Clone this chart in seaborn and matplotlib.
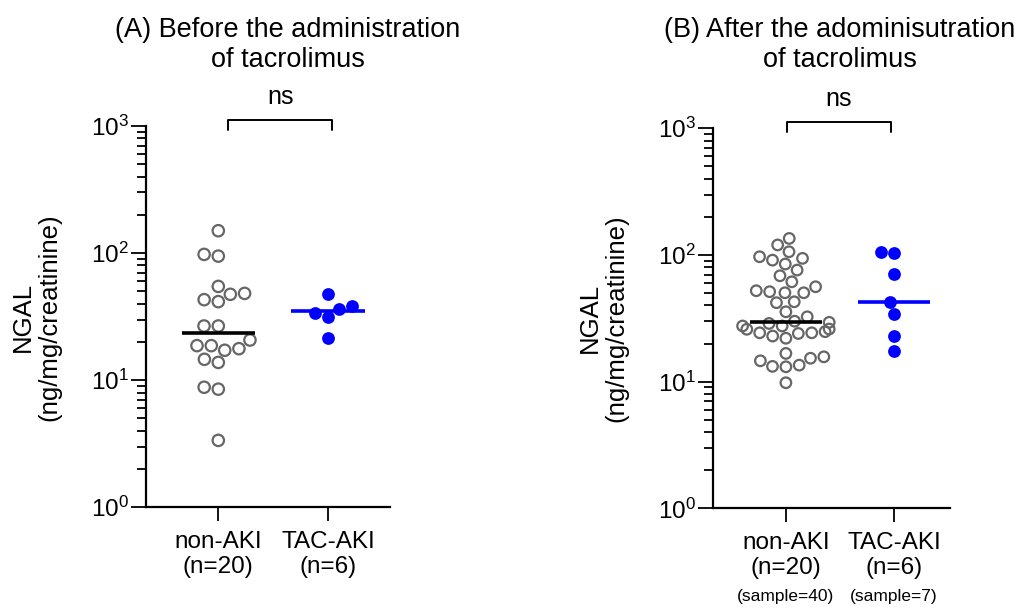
import numpy as np
import pandas as pd
import matplotlib
matplotlib.use("Agg")
import matplotlib.pyplot as plt
import matplotlib.transforms as mtransforms
from matplotlib.ticker import LogLocator, LogFormatterSciNotation, NullFormatter
import seaborn as sns

# ---------------- data ----------------
groups = ["non-AKI", "TAC-AKI"]

a_non_aki = [150, 97.7, 94.7, 54.7, 48.2, 47.4, 43.0, 41.5, 26.7, 26.7,
             20.7, 18.7, 18.7, 17.7, 17.2, 14.6, 13.8, 8.8, 8.5, 3.36]
a_tac_aki = [47.4, 38.4, 36.1, 33.6, 31.3, 21.6]

b_non_aki = [135, 120, 106, 96.8, 94, 91, 84.8, 76, 68.5, 61.4,
             56.1, 52.2, 51.3, 50.3, 50.3, 42.7, 42.0, 35.6, 32.5, 30.0,
             29.4, 28.8, 27.5, 27.5, 26.0, 25.9, 24.8, 24.3, 24.3, 24.0,
             22.9, 22.0, 16.7, 15.7, 15.3, 14.6, 13.5, 13.2, 13.1, 9.8]
b_tac_aki = [106, 103, 70.3, 42.3, 34.0, 22.9, 17.5]

a_xticklabels = ["non-AKI\n(n=20)", "TAC-AKI\n(n=6)"]
b_xticklabels = ["non-AKI\n(n=20)", "TAC-AKI\n(n=6)"]
b_sample_labels = ["(sample=40)", "(sample=7)"]

title_a = "(A) Before the administration\nof tacrolimus"
title_b = "(B) After the adominisutration\nof tacrolimus"
ylabel = "NGAL\n(ng/mg/creatinine)"
sig_label = "ns"

# ---------------- style ----------------
sns.set_style("ticks")
plt.rcParams["font.family"] = ["Liberation Sans", "DejaVu Sans"]
plt.rcParams["mathtext.default"] = "regular"
for k in ["text.color", "axes.labelcolor", "xtick.color", "ytick.color", "axes.edgecolor"]:
    plt.rcParams[k] = "black"

GRAY = "#666666"
BLUE = "#0000ff"

fig = plt.figure(figsize=(10.18, 6.1), dpi=100)
axA = fig.add_axes([0.1431, 0.1684, 0.240, 0.625])
axB = fig.add_axes([0.7000, 0.1667, 0.233, 0.623])


def panel(ax, non, tac, xlabels, xlim, br, open_size):
    ax.set_yscale("log")
    ax.set_ylim(1, 1000)
    df_non = pd.DataFrame({"group": groups[0], "value": non})
    df_tac = pd.DataFrame({"group": groups[1], "value": tac})
    n0 = len(ax.collections)
    sns.swarmplot(data=df_non, x="group", y="value", order=groups, ax=ax,
                  color=GRAY, edgecolor=GRAY, linewidth=1.6, size=open_size, zorder=2)
    for coll in ax.collections[n0:]:
        coll.set_facecolor("none")
        coll.set_edgecolor(GRAY)
    sns.swarmplot(data=df_tac, x="group", y="value", order=groups, ax=ax,
                  color=BLUE, linewidth=0, size=9.2, zorder=2)
    for i, (vals, c) in enumerate([(non, "black"), (tac, BLUE)]):
        ax.hlines(np.median(vals), i - 0.335, i + 0.335, color=c, lw=2.6, zorder=4)
    ax.set_xlim(*xlim)
    ax.set_xlabel("")
    ax.set_ylabel("")
    ax.set_xticks([0, 1])
    ax.set_xticklabels(xlabels, fontsize=17.5, linespacing=1.2)
    ax.yaxis.set_major_locator(LogLocator(base=10, numticks=10))
    ax.yaxis.set_major_formatter(LogFormatterSciNotation())
    ax.yaxis.set_minor_locator(LogLocator(base=10, subs=np.arange(2, 10), numticks=10))
    ax.yaxis.set_minor_formatter(NullFormatter())
    ax.tick_params(axis="y", which="major", length=11, width=1.3, labelsize=17.5, pad=1)
    ax.tick_params(axis="y", which="minor", length=6.5, width=1.3)
    ax.tick_params(axis="x", which="major", length=10, width=1.3, pad=7)
    for s in ["top", "right"]:
        ax.spines[s].set_visible(False)
    for s in ["left", "bottom"]:
        ax.spines[s].set_linewidth(1.6)
    trans = mtransforms.blended_transform_factory(ax.transData, ax.transAxes)
    x0, x1 = br
    ax.plot([x0, x0, x1, x1], [0.99, 1.016, 1.016, 0.99], color="black", lw=1.4,
            transform=trans, clip_on=False)
    ax.text((x0 + x1) / 2, 1.045, sig_label, transform=trans, ha="center",
            va="bottom", fontsize=18)
    return trans


panel(axA, a_non_aki, a_tac_aki, a_xticklabels, (-0.662, 1.565), (0.09, 1.04), 8.2)
transB = panel(axB, b_non_aki, b_tac_aki, b_xticklabels, (-0.677, 1.514), (0.006, 0.97), 7.6)

for i, lab in enumerate(b_sample_labels):
    axB.text(i, -0.231, lab, transform=transB, ha="center", va="center", fontsize=12.5)

fig.text(288 / 1018, 1 - 17 / 610, title_a, ha="center", va="top", fontsize=19.5,
         linespacing=1.2)
fig.text(840 / 1018, 1 - 17 / 610, title_b, ha="center", va="top", fontsize=19.5,
         linespacing=1.2)

fig.text(36 / 1018, 1 - 317 / 610, ylabel, rotation=90, ha="center", va="center",
         fontsize=18.5, multialignment="center", linespacing=1.15)
fig.text(603 / 1018, 1 - 318 / 610, ylabel, rotation=90, ha="center", va="center",
         fontsize=18.5, multialignment="center", linespacing=1.15)

fig.savefig("out.png", dpi=100)
